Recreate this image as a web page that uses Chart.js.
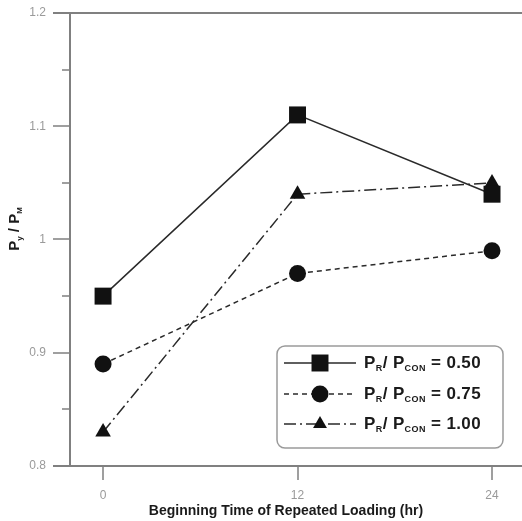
<!DOCTYPE html>
<html>
<head>
<meta charset="utf-8">
<script src="https://cdn.jsdelivr.net/npm/chart.js@4/dist/chart.umd.min.js"></script>
<style>
  html, body { margin: 0; padding: 0; background: #fff; }
  #wrap { width: 522px; height: 521px; position: relative; }
</style>
</head>
<body>
<div id="wrap"><canvas id="chart"></canvas></div>
<script>
// data
const times = [0, 12, 24];
const ratio050 = [0.95, 1.11, 1.04];
const ratio075 = [0.89, 0.97, 0.99];
const ratio100 = [0.83, 1.04, 1.05];
const seriesLabels = ['0.50', '0.75', '1.00'];
const yTicks = [0.8, 0.9, 1, 1.1, 1.2];

const frameColor = '#808080';
const lineColor = '#2a2a2a';
const font = "'Liberation Sans', Arial, sans-serif";

const toPoints = vals => times.map((t, i) => ({ x: t, y: vals[i] }));

// draw text runs with subscripts
function richText(ctx, x, y, parts, size) {
    let cx = x;
    parts.forEach(p => {
        const s = p.sub ? Math.round(size * 0.5) : size;
        ctx.font = 'bold ' + s + 'px ' + font;
        ctx.fillText(p.t, cx, p.sub ? y + size * 0.32 : y);
        cx += ctx.measureText(p.t).width;
    });
    return cx - x;
}
function measureRich(ctx, parts, size) {
    let w = 0;
    parts.forEach(p => {
        const s = p.sub ? Math.round(size * 0.5) : size;
        ctx.font = 'bold ' + s + 'px ' + font;
        w += ctx.measureText(p.t).width;
    });
    return w;
}

const frame = {
    id: 'frame',
    afterDraw(chart) {
        const { ctx, chartArea: a, scales } = chart;
        const ys = scales.y, xs = scales.x;
        ctx.save();
        ctx.strokeStyle = frameColor;
        ctx.lineWidth = 2;
        ctx.beginPath();
        ctx.moveTo(53, a.top); ctx.lineTo(a.right, a.top);
        ctx.moveTo(53, a.bottom); ctx.lineTo(a.right, a.bottom);
        ctx.moveTo(a.left, a.top); ctx.lineTo(a.left, a.bottom);
        ctx.stroke();
        ctx.lineWidth = 1.5;
        ctx.beginPath();
        for (let v = 0.8; v <= 1.2001; v += 0.05) {
            const py = Math.round(ys.getPixelForValue(v));
            const major = Math.abs(v * 10 - Math.round(v * 10)) < 1e-6;
            ctx.moveTo(major ? 53 : 62, py); ctx.lineTo(a.left, py);
        }
        times.forEach(t => {
            const px = Math.round(xs.getPixelForValue(t));
            ctx.moveTo(px, a.bottom); ctx.lineTo(px, a.bottom + 14);
        });
        ctx.stroke();

        // axis titles
        ctx.fillStyle = '#1a1a1a';
        ctx.textBaseline = 'middle';
        ctx.font = 'bold 14px ' + font;
        ctx.textAlign = 'center';
        ctx.fillText('Beginning Time of Repeated Loading (hr)', 286, 511);
        ctx.textAlign = 'left';
        const yParts = [{ t: 'P' }, { t: 'y', sub: true }, { t: ' / P' }, { t: 'M', sub: true }];
        ctx.save();
        ctx.translate(15, 229);
        ctx.rotate(-Math.PI / 2);
        const w = measureRich(ctx, yParts, 15);
        richText(ctx, -w / 2, 0, yParts, 15);
        ctx.restore();

        // legend
        const bx = 277, by = 346, bw = 226, bh = 102;
        ctx.strokeStyle = '#9a9a9a';
        ctx.lineWidth = 1.5;
        ctx.beginPath();
        ctx.roundRect(bx, by, bw, bh, 8);
        ctx.stroke();
        const rowsY = [363, 394, 424];
        chart.data.datasets.forEach((ds, i) => {
            const yy = rowsY[i];
            ctx.strokeStyle = lineColor;
            ctx.lineWidth = 1.5;
            ctx.setLineDash(ds.borderDash || []);
            ctx.beginPath();
            ctx.moveTo(284, yy); ctx.lineTo(356, yy);
            ctx.stroke();
            ctx.setLineDash([]);
            ctx.fillStyle = '#111';
            Chart.helpers.drawPoint(ctx, {
                pointStyle: ds.pointStyle, radius: i === 2 ? 8 : (i === 0 ? 12 : 8.5),
                borderWidth: 0, rotation: 0
            }, 320, yy);
            ctx.fillStyle = '#1a1a1a';
            ctx.letterSpacing = '0.4px';
            const parts = [{ t: 'P' }, { t: 'R', sub: true }, { t: '/ P' }, { t: 'CON', sub: true }, { t: ' = ' + seriesLabels[i] }];
            richText(ctx, 364, yy, parts, 17);
            ctx.letterSpacing = '0px';
        });
        ctx.restore();
    }
};

new Chart(document.getElementById('chart'), {
    type: 'line',
    data: {
        datasets: [
            { data: toPoints(ratio050), pointStyle: 'rect', pointRadius: 12, borderDash: [] },
            { data: toPoints(ratio075), pointStyle: 'circle', pointRadius: 8.5, borderDash: [5, 4] },
            { data: toPoints(ratio100), pointStyle: 'triangle', pointRadius: 9, borderDash: [12, 4, 2, 4] }
        ].map(d => Object.assign(d, {
            borderColor: lineColor,
            borderWidth: 1.5,
            backgroundColor: '#111',
            pointBackgroundColor: '#111',
            pointBorderWidth: 0,
            tension: 0
        }))
    },
    options: {
        responsive: true,
        maintainAspectRatio: false,
        animation: false,
        clip: false,
        layout: { autoPadding: false, padding: { top: 13, right: 0, left: 0, bottom: 0 } },
        plugins: { legend: { display: false }, tooltip: { enabled: false } },
        scales: {
            x: {
                type: 'linear',
                min: -2.04, max: 25.85,
                afterFit(s) { s.height = 55; s.paddingLeft = 0; s.paddingRight = 0; },
                afterBuildTicks(s) { s.ticks = times.map(v => ({ value: v })); },
                grid: { display: false },
                border: { display: false },
                ticks: { padding: 14, color: '#9a9a9a', font: { family: font, size: 12 } }
            },
            y: {
                min: 0.8, max: 1.2,
                afterFit(s) { s.width = 70; s.paddingTop = 0; s.paddingBottom = 0; },
                afterBuildTicks(s) { s.ticks = yTicks.map(v => ({ value: v })); },
                grid: { display: false },
                border: { display: false },
                ticks: { padding: 16, color: '#9a9a9a', font: { family: font, size: 12 },
                    callback: v => String(Math.round(v * 10) / 10) }
            }
        }
    },
    plugins: [frame]
});
</script>
</body>
</html>
